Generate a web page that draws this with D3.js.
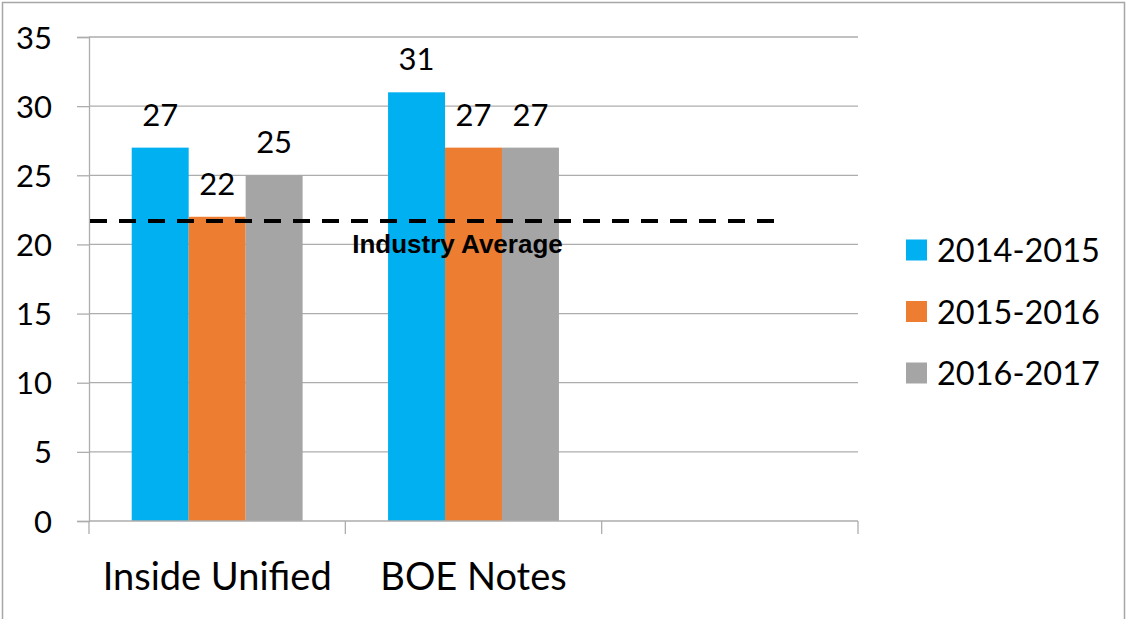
<!DOCTYPE html>
<html>
<head>
<meta charset="utf-8">
<script src="https://cdn.jsdelivr.net/npm/d3@7"></script>
<style>
  html, body { margin: 0; padding: 0; background: #fff; }
  svg { display: block; }
</style>
</head>
<body>
<svg id="chart" width="1126" height="619" font-family="Lato, 'Open Sans', sans-serif"></svg>
<script>
// Chart data
const categories = ["Inside Unified", "BOE Notes", ""];
const seriesNames = ["2014-2015", "2015-2016", "2016-2017"];
const seriesColors = ["#00B0F0", "#ED7D31", "#A5A5A5"];
const values2014 = [27, 31, null];
const values2015 = [22, 27, null];
const values2016 = [25, 27, null];
const yTicks = [0, 5, 10, 15, 20, 25, 30, 35];
const industryAverage = 21.7;
const industryLabel = "Industry Average";

const seriesValues = [values2014, values2015, values2016];
const rows = categories.map((c, i) => ({
  category: c,
  values: seriesNames.map((s, j) => ({ series: s, value: seriesValues[j][i], color: seriesColors[j] }))
}));

const svg = d3.select("#chart");
const plot = { left: 89, right: 858, top: 37, bottom: 521 };
const gridColor = "#ADADAD";

// outer frame
svg.append("rect")
  .attr("x", 2.5).attr("y", 2.5)
  .attr("width", 1122).attr("height", 640)
  .attr("fill", "none").attr("stroke", "#A6A6A6").attr("stroke-width", 1.5);

const x0 = d3.scaleBand().domain(categories).range([plot.left, plot.right]).padding(0);
const x1 = d3.scaleBand().domain(seriesNames).range([0, x0.bandwidth()])
  .paddingInner(0).paddingOuter(0.75);
const y = d3.scaleLinear().domain([0, 35]).range([plot.bottom, plot.top]);

// horizontal gridlines
svg.append("g").selectAll("line").data(yTicks.filter(d => d > 0)).join("line")
  .attr("x1", plot.left).attr("x2", plot.right)
  .attr("y1", d => y(d)).attr("y2", d => y(d))
  .attr("stroke", gridColor).attr("stroke-width", 1.3);

// y axis
const yAxis = svg.append("g").attr("transform", `translate(${plot.left},0)`)
  .call(d3.axisLeft(y).tickValues(yTicks).tickSize(12).tickPadding(25));
yAxis.attr("font-family", null).attr("font-size", 31);
yAxis.select(".domain").attr("stroke", gridColor).attr("stroke-width", 1.3);
yAxis.selectAll(".tick line").attr("stroke", gridColor).attr("stroke-width", 1.3);
yAxis.selectAll(".tick text").attr("dy", 11).attr("fill", "#000");

// bars
const groups = svg.append("g").selectAll("g").data(rows).join("g")
  .attr("transform", d => `translate(${x0(d.category)},0)`);
groups.selectAll("rect").data(d => d.values.filter(v => v.value != null)).join("rect")
  .attr("x", d => x1(d.series))
  .attr("width", x1.bandwidth())
  .attr("y", d => y(d.value))
  .attr("height", d => y(0) - y(d.value))
  .attr("fill", d => d.color);

// value labels
groups.selectAll("text.val").data(d => d.values.filter(v => v.value != null)).join("text")
  .attr("class", "val")
  .attr("x", d => x1(d.series) + x1.bandwidth() / 2)
  .attr("y", d => y(d.value) - 22)
  .attr("text-anchor", "middle")
  .attr("font-size", 31)
  .text(d => d.value);

// x axis baseline with category separators
const xAxisG = svg.append("g");
xAxisG.append("line")
  .attr("x1", plot.left).attr("x2", plot.right)
  .attr("y1", plot.bottom).attr("y2", plot.bottom)
  .attr("stroke", gridColor).attr("stroke-width", 1.3);
const sepX = categories.map(c => x0(c)).concat([x0(categories[categories.length - 1]) + x0.bandwidth()]);
xAxisG.selectAll("line.sep").data(sepX).join("line")
  .attr("class", "sep")
  .attr("x1", d => d).attr("x2", d => d)
  .attr("y1", plot.bottom).attr("y2", plot.bottom + 13)
  .attr("stroke", gridColor).attr("stroke-width", 1.3);
xAxisG.selectAll("text").data(categories).join("text")
  .attr("x", d => x0(d) + x0.bandwidth() / 2)
  .attr("y", 590)
  .attr("text-anchor", "middle")
  .attr("font-size", 38)
  .text(d => d);

// industry average reference line
svg.append("line")
  .attr("x1", plot.left + 1).attr("x2", 777)
  .attr("y1", y(industryAverage)).attr("y2", y(industryAverage))
  .attr("stroke", "#000").attr("stroke-width", 4)
  .attr("stroke-dasharray", "17 12");
svg.append("text")
  .attr("x", 457.5).attr("y", y(industryAverage) + 32)
  .attr("text-anchor", "middle")
  .attr("font-family", "'Liberation Sans', Arial, sans-serif")
  .attr("font-weight", "bold")
  .attr("font-size", 26)
  .text(industryLabel);

// legend
const legend = svg.append("g").selectAll("g").data(seriesNames).join("g")
  .attr("transform", (d, i) => `translate(906,${250 + i * 61.5})`);
legend.append("rect")
  .attr("x", 0).attr("y", -10.5).attr("width", 21).attr("height", 21)
  .attr("fill", (d, i) => seriesColors[i]);
legend.append("text")
  .attr("x", 31).attr("y", 12)
  .attr("font-size", 32.5)
  .text(d => d);
</script>
</body>
</html>
